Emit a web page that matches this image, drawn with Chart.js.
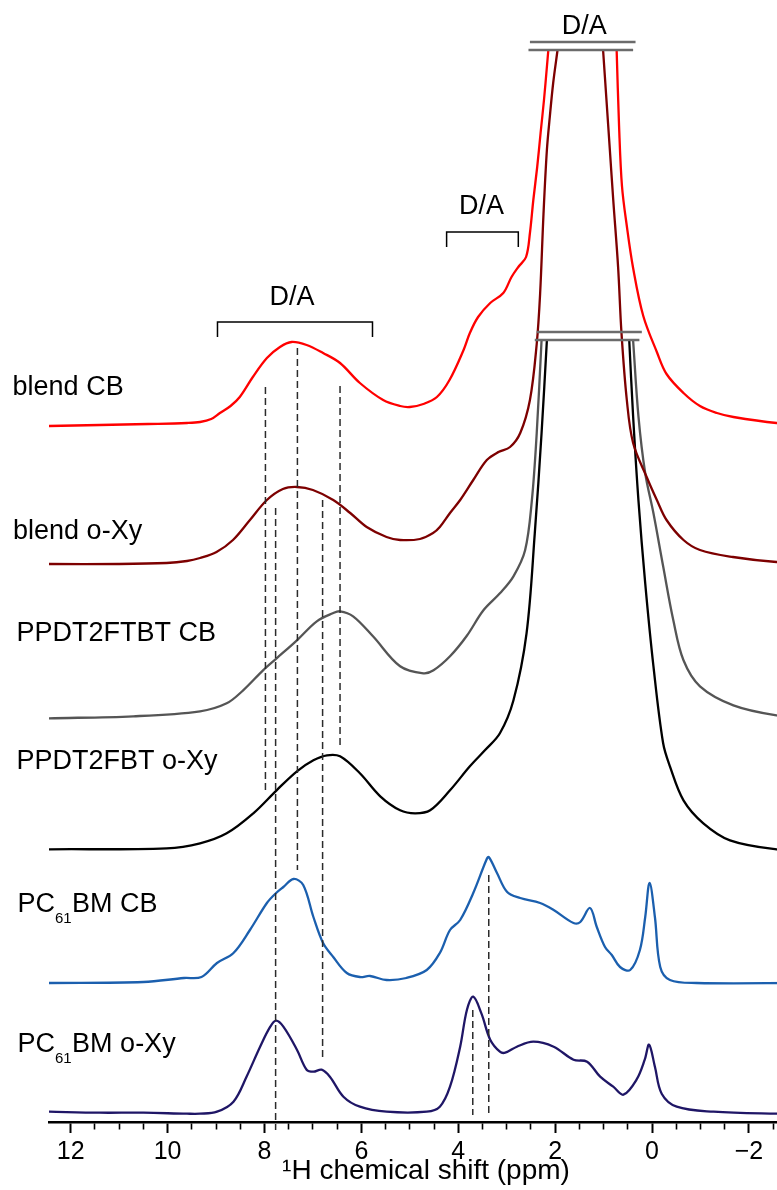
<!DOCTYPE html>
<html>
<head>
<meta charset="utf-8">
<script src="https://cdn.jsdelivr.net/npm/chart.js@4.4.1/dist/chart.umd.min.js"></script>
<style>
  html, body { margin: 0; padding: 0; overflow: hidden; background: #fff; }
  canvas { display: block; }
</style>
</head>
<body>
<canvas id="nmr" width="803" height="1190"></canvas>
<script>
// ---- 1H solid-state NMR spectra, stacked (ppm, intensity a.u.) ----
// null = off-scale (axis break)

const blendCB_ppm = [12.45, 11.4, 10.4, 9.6, 9.33, 9.1, 8.92, 8.7, 8.51, 8.24, 7.95, 7.68, 7.44, 7.13, 6.79, 6.44, 6.03, 5.55, 5.2, 5.0, 4.72, 4.44, 4.18, 3.89, 3.76, 3.59, 3.34, 3.07, 2.9, 2.76, 2.6, 2.52, 2.45, 2.37, 2.3, 2.23, 2.17, 2.14, 1.4, 0.73, 0.68, 0.62, 0.52, 0.39, 0.18, -0.1, -0.3, -0.65, -0.99, -1.34, -1.68, -2.57, -3.12];
const blendCB_int = [0, 1, 2, 3, 4, 7, 13, 20, 29, 49, 68, 79, 84, 81, 73, 63, 43, 26, 20, 19, 22, 29, 46, 76, 93, 109, 123, 133, 149, 159, 169, 193, 226, 259, 293, 326, 359, 376, null, 376, 300, 240, 200, 158, 110, 74, 52, 33, 20, 13, 9, 3, 2];

const blendXy_ppm = [12.45, 11.0, 10.02, 9.6, 9.33, 8.99, 8.65, 8.3, 7.95, 7.62, 7.33, 7.0, 6.58, 6.23, 5.89, 5.48, 5.2, 4.79, 4.52, 4.38, 4.17, 3.96, 3.69, 3.41, 3.17, 2.93, 2.72, 2.52, 2.38, 2.31, 2.24, 2.17, 2.11, 2.04, 1.95, 1.5, 1.01, 0.94, 0.87, 0.8, 0.7, 0.63, 0.52, 0.39, 0.11, -0.1, -0.3, -0.65, -0.99, -1.67, -2.57, -3.12];
const blendXy_int = [0, 0, 1, 3, 6, 12, 24, 44, 64, 75, 77, 74, 64, 51, 37, 27, 24, 25, 31, 37, 51, 64, 84, 104, 112, 117, 131, 164, 220, 270, 350, 414, 447, 481, 514, null, 514, 464, 414, 364, 297, 231, 164, 121, 87, 64, 44, 24, 14, 7, 2, 2];

const ftbtCB_ppm = [12.45, 10.71, 9.33, 8.78, 8.44, 8.03, 7.75, 7.33, 6.92, 6.59, 6.44, 6.17, 5.76, 5.2, 4.72, 4.51, 4.17, 3.83, 3.48, 3.14, 2.86, 2.62, 2.48, 2.38, 2.28, 1.3, 0.39, 0.28, 0.14, -0.03, -0.23, -0.44, -0.65, -0.99, -1.68, -2.57, -3.12];
const ftbtCB_int = [0, 2, 7, 15, 28, 48, 60, 78, 97, 105, 107, 102, 82, 52, 45, 48, 62, 82, 108, 125, 142, 168, 218, 285, 378, null, 378, 302, 245, 205, 152, 98, 58, 32, 13, 3, 2];

const fbtXy_ppm = [12.45, 10.02, 9.33, 8.78, 8.23, 7.75, 7.33, 6.99, 6.71, 6.44, 6.03, 5.61, 5.2, 4.89, 4.58, 4.17, 3.76, 3.45, 3.14, 2.86, 2.59, 2.42, 2.28, 2.17, 1.3, 0.47, 0.39, 0.28, 0.14, -0.03, -0.23, -0.37, -0.65, -1.06, -1.61, -2.57, -3.12];
const fbtXy_int = [0, 1, 6, 16, 36, 59, 78, 89, 94, 93, 76, 53, 39, 36, 39, 59, 83, 99, 116, 149, 216, 316, 416, 509, null, 509, 433, 349, 266, 183, 106, 83, 49, 26, 9, 0, 0];

const pcbmCB_ppm = [12.45, 10.5, 9.66, 9.3, 8.98, 8.64, 8.3, 7.95, 7.76, 7.61, 7.4, 7.2, 6.99, 6.79, 6.58, 6.3, 6.03, 5.82, 5.48, 5.07, 4.65, 4.38, 4.17, 3.96, 3.69, 3.42, 3.37, 3.2, 2.99, 2.72, 2.31, 2.03, 1.62, 1.48, 1.28, 1.14, 0.97, 0.83, 0.66, 0.45, 0.25, 0.14, 0.05, -0.06, -0.17, -0.37, -0.92, -3.12];
const pcbmCB_int = [0, 1, 5, 6, 20, 30, 53, 80, 90, 96, 104, 98, 66, 40, 26, 10, 6, 7, 3, 5, 13, 30, 53, 63, 90, 123, 126, 110, 91, 85, 80, 73, 60, 61, 75, 56, 36, 28, 16, 13, 33, 66, 100, 66, 16, 3, 0, 0];

const pcbmXy_ppm = [12.45, 11.4, 10.5, 9.6, 9.33, 8.98, 8.64, 8.37, 8.09, 7.88, 7.76, 7.61, 7.33, 7.13, 6.99, 6.82, 6.65, 6.37, 6.03, 5.48, 4.65, 4.38, 4.17, 3.96, 3.82, 3.69, 3.52, 3.34, 3.14, 3.03, 2.79, 2.45, 2.03, 1.62, 1.34, 1.07, 0.8, 0.59, 0.32, 0.15, 0.06, -0.06, -0.2, -0.51, -1.27, -2.57, -3.12];
const pcbmXy_int = [0, -1, -1, -2, -2, 0, 10, 35, 65, 85, 91, 85, 62, 42, 40, 42, 35, 15, 5, 0, 0, 5, 25, 65, 102, 115, 98, 72, 60, 59, 65, 70, 65, 52, 50, 35, 25, 17, 32, 52, 67, 45, 18, 5, 0, -2, -2];

// series names (subscript written as _{..}) and stacking offsets
const seriesNames = ['blend CB', 'blend o-Xy', 'PPDT2FTBT CB', 'PPDT2FBT o-Xy', 'PC_{61}BM CB', 'PC_{61}BM o-Xy'];
const seriesOffsets = [696, 558, 403.7, 272.7, 139, 10.3];
const seriesColors = ['#ff0000', '#7d0000', '#555555', '#000000', '#1b5fae', '#1f1666'];

// dashed reference lines: ppm, upper and lower ends
const refPpm    = [7.98, 7.77, 7.32, 6.80, 6.44, 3.70, 3.37];
const refTop    = [735, 614, 774, 622, 736, 112, 247];
const refBottom = [329, -8, 252, 65, 375, 7, 5];

// D/A range brackets
const bracketA_ppm = [8.97, 8.97, 5.77, 5.77];
const bracketA_val = [785, 800, 800, 785];
const bracketB_ppm = [4.24, 4.24, 2.76, 2.76];
const bracketB_val = [875, 890, 890, 875];

// axis-break bars above the clipped peaks: [ppm start, ppm end, level]
const breakBars = [[2.52, 0.34, 1080], [2.55, 0.39, 1072], [2.38, 0.21, 790], [2.42, 0.26, 782]];

// text annotations
const daLabels = [[1.40, 1095], [3.52, 915], [7.43, 824]];
const nameLabelPpm = [13.20, 13.19, 13.12, 13.12, 13.10, 13.10];
const nameLabelVal = [734, 590, 488, 360, 217, 77];

const FONT = "'Liberation Sans', Arial, sans-serif";

function points(ppm, ints, off) {
  return ppm.map((x, i) => ({ x: x, y: ints[i] === null ? null : ints[i] + off }));
}

const spectra = [
  [blendCB_ppm, blendCB_int],
  [blendXy_ppm, blendXy_int],
  [ftbtCB_ppm, ftbtCB_int],
  [fbtXy_ppm, fbtXy_int],
  [pcbmCB_ppm, pcbmCB_int],
  [pcbmXy_ppm, pcbmXy_int]
];

const datasets = [];

spectra.forEach((s, i) => {
  datasets.push({
    label: seriesNames[i],
    data: points(s[0], s[1], seriesOffsets[i]),
    borderColor: seriesColors[i],
    borderWidth: 2.3,
    pointRadius: 0,
    fill: false,
    spanGaps: false,
    tension: 0.35,
    order: 3
  });
});

refPpm.forEach((p, i) => {
  datasets.push({
    data: [{ x: p, y: refTop[i] }, { x: p, y: refBottom[i] }],
    borderColor: '#2b2b2b',
    borderWidth: 1.5,
    borderDash: [7, 4],
    pointRadius: 0,
    clip: false,
    order: 2
  });
});

[[bracketA_ppm, bracketA_val], [bracketB_ppm, bracketB_val]].forEach(b => {
  datasets.push({
    data: b[0].map((x, i) => ({ x: x, y: b[1][i] })),
    borderColor: '#000',
    borderWidth: 1.5,
    pointRadius: 0,
    tension: 0,
    order: 1
  });
});

breakBars.forEach(b => {
  datasets.push({
    data: [{ x: b[0], y: b[2] }, { x: b[1], y: b[2] }],
    borderColor: '#6b6b6b',
    borderWidth: 2.3,
    pointRadius: 0,
    order: 0
  });
});

function isMajor(v) {
  const r = Math.round(v);
  return Math.abs(v - r) < 1e-6 && r % 2 === 0;
}
function tickText(v) {
  const r = Math.round(v);
  return r < 0 ? '\u2212' + Math.abs(r) : String(r);
}

// draws "PC_{61}BM" style text with a subscript
function drawRich(ctx, text, x, y) {
  const parts = text.split(/_\{([^}]*)\}/);
  let cx = x;
  parts.forEach((t, k) => {
    if (!t) return;
    const sub = k % 2 === 1;
    ctx.font = (sub ? '15px ' : '27px ') + FONT;
    ctx.fillText(t, cx, sub ? y + 14 : y);
    cx += ctx.measureText(t).width + (sub ? 0.5 : 0);
  });
}

const annotations = {
  id: 'annotations',
  afterDatasetsDraw(chart) {
    const { ctx, scales: { x, y } } = chart;
    ctx.save();
    ctx.fillStyle = '#000';
    ctx.textBaseline = 'middle';
    ctx.textAlign = 'left';
    seriesNames.forEach((n, i) => {
      drawRich(ctx, n, x.getPixelForValue(nameLabelPpm[i]), y.getPixelForValue(nameLabelVal[i]));
    });
    ctx.textAlign = 'center';
    ctx.font = '27px ' + FONT;
    daLabels.forEach(l => {
      ctx.fillText('D/A', x.getPixelForValue(l[0]), y.getPixelForValue(l[1]));
    });
    ctx.restore();
  }
};

new Chart(document.getElementById('nmr'), {
  type: 'line',
  data: { datasets: datasets },
  options: {
    responsive: false,
    animation: false,
    events: [],
    layout: { padding: { left: 49, right: 0, top: 0, bottom: 0 } },
    plugins: { legend: { display: false }, tooltip: { enabled: false } },
    scales: {
      x: {
        type: 'linear',
        position: 'bottom',
        reverse: true,
        min: -3.117,
        max: 12.448,
        afterFit: s => { s.height = 68; },
        border: { display: true, color: '#000', width: 2.5 },
        grid: {
          drawOnChartArea: false,
          drawTicks: true,
          tickLength: 11,
          tickColor: '#000',
          tickWidth: c => isMajor(c.tick.value) ? 2 : 1.6,
          tickBorderDash: c => isMajor(c.tick.value) ? [] : [6, 40]
        },
        ticks: {
          stepSize: 0.5,
          includeBounds: false,
          autoSkip: false,
          minRotation: 0,
          maxRotation: 0,
          padding: 4,
          color: '#000',
          font: { family: FONT, size: 25 },
          callback: v => isMajor(v) ? tickText(v) : ''
        },
        title: {
          display: true,
          text: '\u00B9H chemical shift (ppm)',
          color: '#000',
          font: { family: FONT, size: 28 },
          padding: { top: 0, bottom: 2 }
        }
      },
      y: { type: 'linear', display: false, min: 0, max: 1122 }
    }
  },
  plugins: [annotations]
});
</script>
</body>
</html>
